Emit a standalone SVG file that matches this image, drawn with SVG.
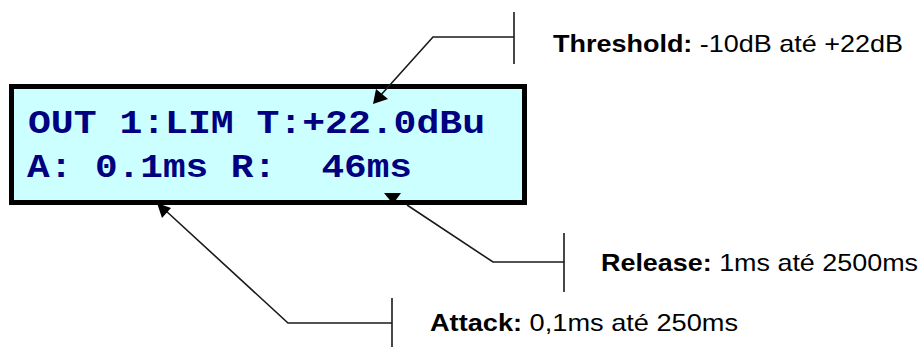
<svg xmlns="http://www.w3.org/2000/svg" width="923" height="347" viewBox="0 0 923 347">
<style>
.lcd{fill:#000080;font-family:"Liberation Mono","Courier New",monospace;font-weight:bold;font-size:34px}
.lbl{fill:#000;font-family:"Liberation Sans",Arial,sans-serif;font-size:24px}
.b{font-weight:bold}
.ln{fill:none;stroke:#1a1a1a;stroke-width:1.6}
.ah{fill:#000}
</style>
<rect width="923" height="347" fill="#fff"/>
<g id="display">
<rect x="11.5" y="86.5" width="513" height="116" fill="#ccffff" stroke="#000" stroke-width="5"/>
<text class="lcd" x="28" y="133" textLength="457" lengthAdjust="spacingAndGlyphs" xml:space="preserve">OUT 1:LIM T:+22.0dBu</text>
<text class="lcd" x="27" y="177" textLength="385" lengthAdjust="spacingAndGlyphs" xml:space="preserve">A: 0.1ms R:  46ms</text>
</g>
<g id="connectors">
<polyline class="ln" points="514,12 514,64"/>
<polyline class="ln" points="514,37 433,37 380,96"/>
<polygon class="ah" points="373,104 376,89 388,99"/>
<polyline class="ln" points="564,233 564,292"/>
<polyline class="ln" points="564,262 493,262 407,205"/>
<polygon class="ah" points="384,193 401,193 393,204"/>
<polyline class="ln" points="392,298 392,347"/>
<polyline class="ln" points="392,323 288,323 165,210"/>
<polygon class="ah" points="157,203 171,208 162,218"/>
</g>
<g id="threshold">
<text class="lbl" x="553" y="52" textLength="350" lengthAdjust="spacingAndGlyphs"><tspan class="b">Threshold:</tspan> -10dB até +22dB</text>
</g>
<g id="release">
<text class="lbl" x="601" y="271" textLength="317" lengthAdjust="spacingAndGlyphs"><tspan class="b">Release:</tspan> 1ms até 2500ms</text>
</g>
<g id="attack">
<text class="lbl" x="430" y="331" textLength="308" lengthAdjust="spacingAndGlyphs"><tspan class="b">Attack:</tspan> 0,1ms até 250ms</text>
</g>
</svg>
